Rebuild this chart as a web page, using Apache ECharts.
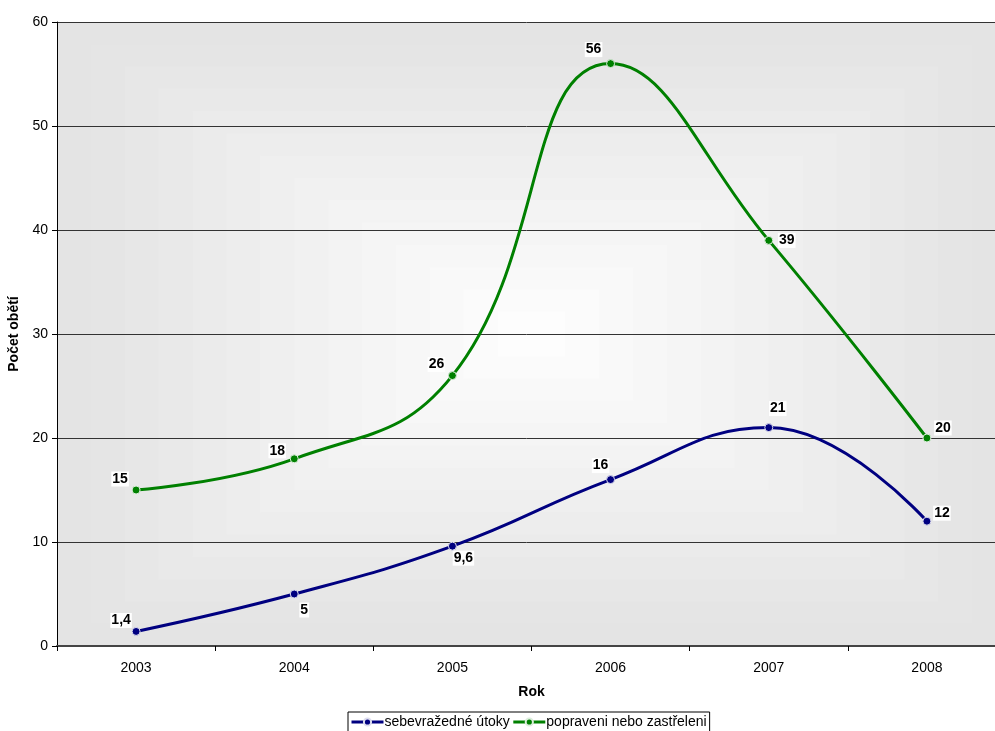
<!DOCTYPE html>
<html>
<head>
<meta charset="utf-8">
<script src="https://cdn.jsdelivr.net/npm/echarts@6/dist/echarts.min.js"></script>
<style>html,body{margin:0;padding:0;background:#fff}#c{width:995px;height:731px}</style>
</head>
<body>
<div id="c"></div>
<script>
var categories = ['2003', '2004', '2005', '2006', '2007', '2008'];
var seriesNames = ['sebevražedné útoky', 'popraveni nebo zastřeleni'];
var attacks = [1.4, 5, 9.6, 16, 21, 12];
var executed = [15, 18, 26, 56, 39, 20];
var attackLabelOffsets = [[-15, -11], [10, 16], [11, 12], [-10, -14], [9, -19], [15, -8]];
var executedLabelOffsets = [[-16, -11], [-17, -8], [-16, -11], [-17, -14], [18, 0], [16, -10]];

var GL = 57, GT = 22, GW = 949, GH = 624;

function fmt(v) { return String(v).replace('.', ','); }

function buildData(vals, offs) {
  return vals.map(function (v, i) {
    return { value: v, label: { position: 'inside', offset: offs[i] } };
  });
}

// banded center gradient background (decoration)
var bands = [];
var N = 14;
for (var i = 0; i < N; i++) {
  var t = i / N;
  var hw = (1 - t) * GW / 2, hh = (1 - t) * GH / 2;
  var c = Math.round(228 + (255 - 228) * Math.pow(t, 1.1));
  var hex = c.toString(16);
  bands.push({
    type: 'rect', silent: true, z: -10,
    shape: { x: GL + GW / 2 - hw, y: GT + GH / 2 - hh, width: hw * 2, height: hh * 2 },
    style: { fill: '#' + hex + hex + hex }
  });
}
var chart = echarts.init(document.getElementById('c'));
var FF = 'Liberation Sans, Arial, sans-serif';
var labelStyle = {
  show: true, color: '#000', fontWeight: 'bold', fontSize: 14,
  fontFamily: FF,
  backgroundColor: '#fff', padding: [1, 1, 0, 1],
  formatter: function (p) { return fmt(p.value); }
};
chart.setOption({
  animation: false,
  textStyle: { fontFamily: FF },
  graphic: bands,
  grid: { left: GL, top: GT, width: GW, height: GH, outerBoundsMode: 'none', containLabel: false },
  legend: {
    top: 712, left: 348,
    data: seriesNames,
    borderColor: '#000', borderWidth: 1,
    padding: [3, 3, 3, 2], itemGap: 2, itemWidth: 32, itemHeight: 9,
    lineStyle: { width: 3 },
    textStyle: { fontSize: 14, color: '#000', padding: [0, 0, 0, -4], fontFamily: FF }
  },
  xAxis: {
    type: 'category', data: categories, boundaryGap: true,
    name: 'Rok', nameLocation: 'middle', nameGap: 39,
    nameTextStyle: { fontWeight: 'bold', fontSize: 14, color: '#000', fontFamily: FF },
    axisLine: { lineStyle: { color: '#444', width: 2 } },
    axisTick: { show: true, length: 5, inside: false, lineStyle: { color: '#000', width: 1 } },
    axisLabel: { color: '#000', fontSize: 14, margin: 15, fontFamily: FF }
  },
  yAxis: {
    type: 'value', min: 0, max: 60, interval: 10,
    name: 'Počet obětí', nameLocation: 'middle', nameGap: 30, nameRotate: 90,
    nameTextStyle: { fontWeight: 'bold', fontSize: 14, color: '#000', fontFamily: FF },
    axisLine: { show: true, lineStyle: { color: '#000', width: 1 } },
    axisTick: { show: true, length: 5, lineStyle: { color: '#000' } },
    axisLabel: { color: '#000', fontSize: 14, margin: 9, fontFamily: FF },
    splitLine: { show: true, lineStyle: { color: '#333', width: 1 } }
  },
  series: [
    {
      name: seriesNames[0], type: 'line', smooth: 0.45,
      data: buildData(attacks, attackLabelOffsets),
      symbol: 'circle', symbolSize: 8,
      lineStyle: { color: '#000080', width: 3 },
      itemStyle: { color: '#000080', borderColor: '#dde', borderWidth: 1 },
      label: labelStyle
    },
    {
      name: seriesNames[1], type: 'line', smooth: 0.45,
      data: buildData(executed, executedLabelOffsets),
      symbol: 'circle', symbolSize: 8,
      lineStyle: { color: '#008000', width: 3 },
      itemStyle: { color: '#008000', borderColor: '#ded', borderWidth: 1 },
      label: labelStyle
    }
  ]
});
</script>
</body>
</html>
